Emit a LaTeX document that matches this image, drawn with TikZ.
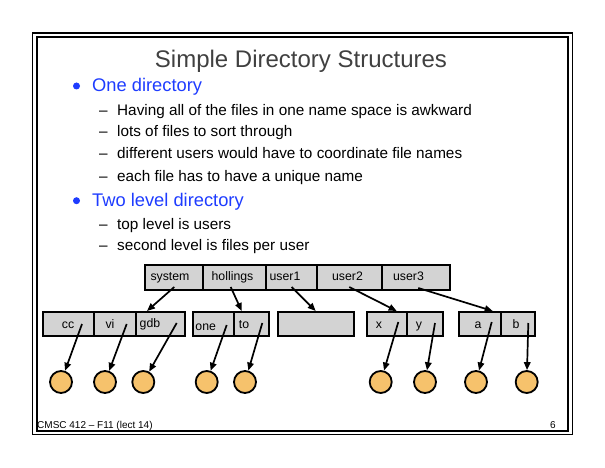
\documentclass[tikz,border=0pt]{standalone}
\usepackage{fontspec}
\setmainfont{Liberation Sans}
\usetikzlibrary{arrows.meta}
\definecolor{cellgray}{RGB}{211,211,211}
\definecolor{fileorange}{RGB}{246,194,108}
\definecolor{titlegray}{RGB}{64,64,64}
\definecolor{bulletblue}{RGB}{30,60,255}
\begin{document}
\begin{tikzpicture}[x=1pt,y=-1pt,
  cell/.style={draw, fill=cellgray, line width=1.9pt, inner sep=0pt, anchor=north west},
  cellrow/.style={minimum height=24pt},
  lbl/.style={anchor=base, inner sep=0pt, font=\fontsize{12.3}{14}\selectfont},
  filec/.style={circle, draw, fill=fileorange, line width=1.8pt, minimum size=22pt, inner sep=0pt},
  arr/.style={-{Triangle[length=8pt,width=6.5pt]}, line width=1.7pt},
  subitem/.style={anchor=base west, inner sep=0pt, font=\fontsize{15.3}{18}\selectfont},
  mainitem/.style={anchor=base west, inner sep=0pt, text=bulletblue, font=\fontsize{18.3}{22}\selectfont},
  dot/.style={circle, fill=bulletblue, inner sep=0pt, minimum size=7pt}
]
\useasboundingbox (0,0) rectangle (605,468);
% frame
\draw[line width=1pt] (32.5,33) rectangle (572.2,434.8);
\draw[line width=1.6pt] (32.5,33) -- (572.2,33);
\draw[line width=1.8pt] (36.8,37.3) rectangle (567.7,431);
\draw[line width=1.2pt] (36.8,37.3) -- (567.7,37.3);
% title
\node[anchor=base, inner sep=0pt, text=titlegray, font=\fontsize{24}{28}\selectfont] (title) at (301,67.5) {Simple Directory Structures};
% bullets
\node[dot] (d1) at (76.5,86) {};
\node[mainitem] (b1) at (92,92) {One directory};
\node[subitem] (s1d) at (99,115.5) {–};
\node[subitem] (s1) at (117,115.5) {Having all of the files in one name space is awkward};
\node[subitem] (s2d) at (99,137) {–};
\node[subitem] (s2) at (117,137) {lots of files to sort through};
\node[subitem] (s3d) at (99,159) {–};
\node[subitem] (s3) at (117,159) {different users would have to coordinate file names};
\node[subitem] (s4d) at (99,181) {–};
\node[subitem] (s4) at (117,181) {each file has to have a unique name};
\node[dot] (d2) at (76.5,200.7) {};
\node[mainitem] (b2) at (92,206.5) {Two level directory};
\node[subitem] (s5d) at (99,229) {–};
\node[subitem] (s5) at (117,229) {top level is users};
\node[subitem] (s6d) at (99,250.5) {–};
\node[subitem] (s6) at (117,250.5) {second level is files per user};
% top row
\node[cell, minimum width=58pt, minimum height=25pt] (system) at (144,264) {};
\node[cell, minimum width=63pt, minimum height=25pt] (hollings) at (202,264) {};
\node[cell, minimum width=51pt, minimum height=25pt] (user1) at (265,264) {};
\node[cell, minimum width=65pt, minimum height=25pt] (user2) at (316,264) {};
\node[cell, minimum width=68pt, minimum height=25pt] (user3) at (381,264) {};
\node[lbl] (lsystem) at (170,280.5) {system};
\node[lbl] (lhollings) at (232.5,280.5) {hollings};
\node[lbl] (luser1) at (285,280.5) {user1};
\node[lbl] (luser2) at (347.5,280.5) {user2};
\node[lbl] (luser3) at (408.5,280.5) {user3};
% second row
\node[cell, cellrow, minimum width=51pt] (cc) at (42,311) {};
\node[cell, cellrow, minimum width=42pt] (vi) at (93,311) {};
\node[cell, cellrow, minimum width=49pt] (gdb) at (135,311) {};
\node[cell, cellrow, minimum width=41pt] (one) at (192,311) {};
\node[cell, cellrow, minimum width=35pt] (to) at (233,311) {};
\node[cell, cellrow, minimum width=76pt] (empty) at (277,311) {};
\node[cell, cellrow, minimum width=40pt] (x) at (366,311) {};
\node[cell, cellrow, minimum width=36pt] (y) at (406,311) {};
\node[cell, cellrow, minimum width=42pt] (a) at (458,311) {};
\node[cell, cellrow, minimum width=34pt] (b) at (500,311) {};
\node[lbl] (lcc) at (68,328) {cc};
\node[lbl] (lvi) at (110,328) {vi};
\node[lbl] (lgdb) at (150,327.5) {gdb};
\node[lbl] (lone) at (205.7,330) {one};
\node[lbl] (lto) at (244,328) {to};
\node[lbl] (lx) at (379,328) {x};
\node[lbl] (ly) at (419,328) {y};
\node[lbl] (la) at (478,328) {a};
\node[lbl] (lb) at (516,328) {b};
% files
\node[filec] (f1) at (61,382) {};
\node[filec] (f2) at (105,382) {};
\node[filec] (f3) at (143.3,382) {};
\node[filec] (f4) at (206.7,382) {};
\node[filec] (f5) at (245,382) {};
\node[filec] (f6) at (380.7,382) {};
\node[filec] (f7) at (425,382) {};
\node[filec] (f8) at (476,382) {};
\node[filec] (f9) at (526.7,382) {};
% arrow coordinates
\coordinate (pcc) at (82,324);
\coordinate (pvi) at (126.7,324);
\coordinate (pgdb) at (176.7,323);
\coordinate (pone) at (226.7,325);
\coordinate (pto) at (262.3,323);
\coordinate (px) at (398.3,322);
\coordinate (py) at (435,323);
\coordinate (pa) at (491.7,322);
\coordinate (pb) at (528.3,323);
\coordinate (psystem) at (174.3,287);
\coordinate (phollings) at (230.7,287);
\coordinate (puser1) at (291.7,287);
\coordinate (puser2) at (349.3,287);
\coordinate (puser3) at (418.3,288);
\coordinate (tsystem) at (147,311);
\coordinate (thollings) at (241.7,311);
\coordinate (tuser1) at (315.7,311);
\coordinate (tuser2) at (396.7,311);
\coordinate (tuser3) at (492.7,311);
% arrows
\draw[arr] (psystem) -- (tsystem);
\draw[arr] (phollings) -- (thollings);
\draw[arr] (puser1) -- (tuser1);
\draw[arr] (puser2) -- (tuser2);
\draw[arr] (puser3) -- (tuser3);
\draw[arr] (pcc) -- (f1);
\draw[arr] (pvi) -- (f2);
\draw[arr] (pgdb) -- (f3);
\draw[arr] (pone) -- (f4);
\draw[arr] (pto) -- (f5);
\draw[arr] (px) -- (f6);
\draw[arr] (py) -- (f7);
\draw[arr] (pa) -- (f8);
\draw[arr] (pb) -- (f9);
% footer
\node[anchor=base west, inner sep=0pt, font=\fontsize{10}{12}\selectfont] (foot) at (37,428) {CMSC 412 – F11 (lect 14)};
\node[anchor=base west, inner sep=0pt, font=\fontsize{10}{12}\selectfont] (page) at (550,428) {6};
\end{tikzpicture}
\end{document}
